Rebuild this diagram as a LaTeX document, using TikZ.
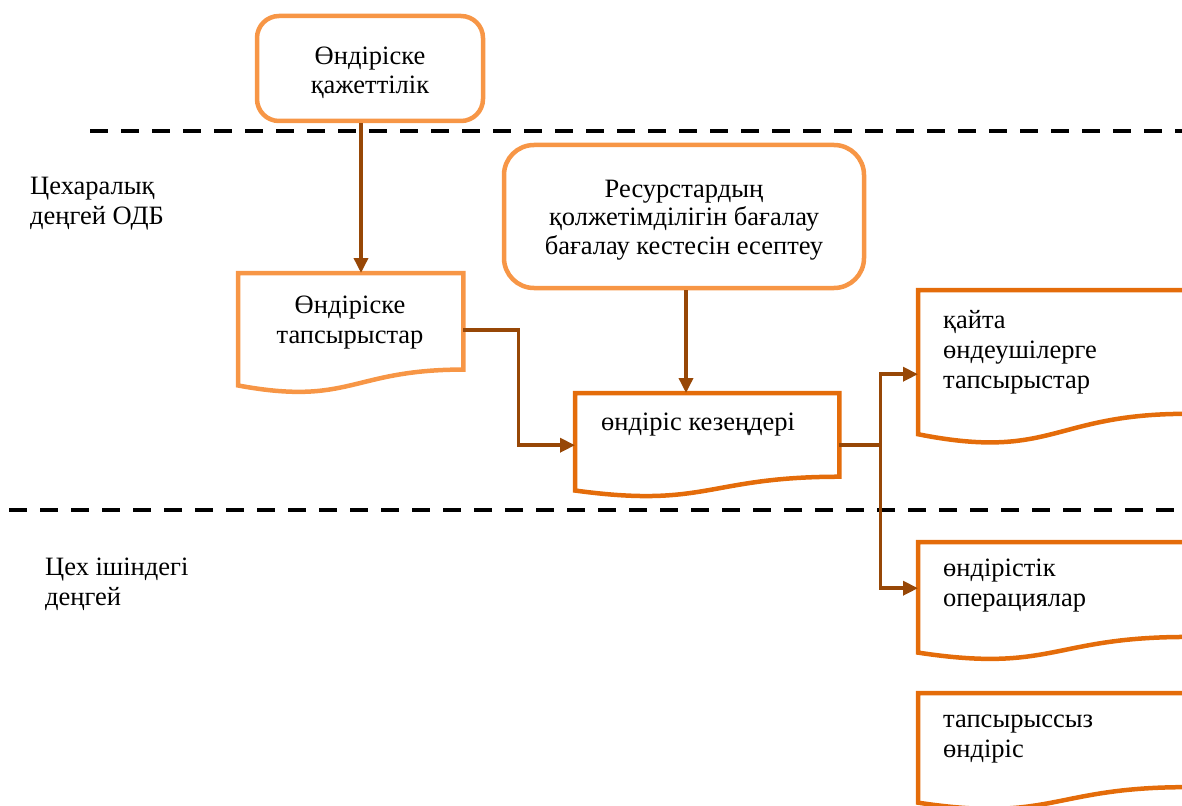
\documentclass[tikz,border=0pt]{standalone}
\usepackage{fontspec}
\setmainfont{Liberation Serif}
\usetikzlibrary{arrows.meta,calc}

\definecolor{lightor}{HTML}{F79646}
\definecolor{darkor}{HTML}{E46C0A}
\definecolor{brownln}{HTML}{974706}

% outline of a flowchart "document" symbol fitted to a named node
\newcommand\docoutline[2]{%
  \draw[#2] let \p1=(#1.north west), \p2=(#1.south east) in
    (\p1) -- (\x2,\y1) -- (\x2,{\y1-0.802*(\y1-\y2)})
    .. controls ({0.5*(\x1+\x2)},{\y1-0.802*(\y1-\y2)}) and ({0.5*(\x1+\x2)},{\y1-1.107*(\y1-\y2)})
    .. (\x1,{\y1-0.934*(\y1-\y2)}) -- cycle;}

\tikzset{
  txt/.style={inner sep=0pt, font=\fontsize{26.5}{30}\selectfont},
  rbox/.style={draw=lightor, line width=4.5pt, rounded corners=22pt, align=center,
    inner sep=0pt},
  rtext/.style={inner sep=0pt, align=center, font=\fontsize{26.5}{28.5}\selectfont},
  docnode/.style={inner sep=0pt, anchor=north west},
  docline/.style={line width=4.5pt, line join=miter},
  conn/.style={draw=brownln, line width=3.5pt, -{Triangle[length=15pt,width=14pt]}},
  connplain/.style={draw=brownln, line width=3.5pt},
  level/.style={black, line width=4.5pt, dash pattern=on 18pt off 13pt},
}

\begin{document}
\begin{tikzpicture}[x=1pt,y=-1pt]
\useasboundingbox (0,0) rectangle (1182,805);
\clip (0,0) rectangle (1182,805);

% level separators
\coordinate (l1a) at (90,131);
\coordinate (l1b) at (1190,131);
\coordinate (l2a) at (9,510);
\coordinate (l2b) at (1190,510);
\draw[level] (l1a) -- (l1b);
\draw[level] (l2a) -- (l2b);

% level captions (anchored on the last line's baseline)
\node[txt, align=left, anchor=base west] (lvlA) at (30,224) {Цехаралық\\деңгей ОДБ};
\node[txt, align=left, anchor=base west] (lvlB) at (45,605) {Цех ішіндегі\\деңгей};

% rounded boxes
\node[rbox, minimum width=226, minimum height=105] (need) at (370,68.5) {};
\node[rtext] (needT) at (370,73) {Өндіріске\\қажеттілік};
\node[rbox, rounded corners=30pt, minimum width=360, minimum height=143] (res) at (684,216.5) {};
\node[rtext] (resT) at (684,220) {Ресурстардың\\қолжетімділігін бағалау\\бағалау кестесін есептеу};

% document symbols
\node[docnode, minimum width=225, minimum height=120] (orders) at (238,273) {};
\node[docnode, minimum width=264, minimum height=104] (stages) at (575,393) {};
\node[docnode, minimum width=268, minimum height=154] (proc) at (918,290) {};
\node[docnode, minimum width=268, minimum height=118] (ops) at (918,542) {};
\node[docnode, minimum width=268, minimum height=117] (noord) at (918,693) {};

\docoutline{orders}{docline, draw=lightor}
\docoutline{stages}{docline, draw=darkor}
\docoutline{proc}{docline, draw=darkor}
\docoutline{ops}{docline, draw=darkor}
\docoutline{noord}{docline, draw=darkor}

\node[txt, align=center, anchor=base] (ordersT) at (350,343) {Өндіріске\\тапсырыстар};
\node[txt, align=left, anchor=base west] (stagesT) at (601,430) {өндіріс кезеңдері};
\node[txt, align=left, anchor=base west] (procT) at (943,388) {қайта\\өндеушілерге\\тапсырыстар};
\node[txt, align=left, anchor=base west] (opsT) at (943,606) {өндірістік\\операциялар};
\node[txt, align=left, anchor=base west] (noordT) at (943,757) {тапсырыссыз\\өндіріс};

% connectors
\draw[conn] ([xshift=-9pt]need.south) -- ([xshift=-9pt]need.south |- orders.north);
\draw[conn] ([yshift=3pt]orders.east) -- ++(55,0) |- (stages.west);
\draw[conn] ([xshift=2pt]res.south) -- ([xshift=2pt]res.south |- stages.north);
\coordinate (split) at ([xshift=41pt]stages.east);
\draw[connplain] (stages.east) -- (split);
\draw[conn] (split) |- ([yshift=-7pt]proc.west);
\draw[conn] (split) |- ([yshift=13pt]ops.west);
\end{tikzpicture}
\end{document}
